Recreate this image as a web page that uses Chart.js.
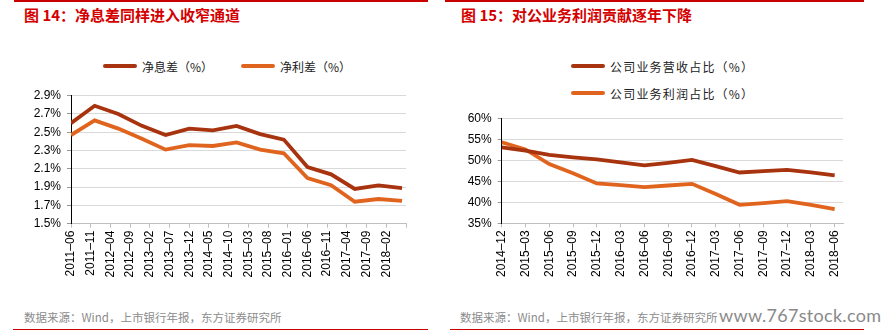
<!DOCTYPE html>
<html><head><meta charset="utf-8">
<script src="https://cdn.jsdelivr.net/npm/chart.js@4.4.0/dist/chart.umd.min.js"></script>
<style>
body{margin:0;width:885px;height:331px;position:relative;background:#fff;overflow:hidden;font-family:"Noto Sans CJK SC",sans-serif;}
.abs{position:absolute;}
.redtop{height:2px;background:#c80000;top:0;}
.redbot{height:1px;background:#c80000;top:329px;}
.title{font-weight:bold;font-size:15px;color:#d40000;top:6px;white-space:nowrap;line-height:18px;}
.foot{font-size:11.5px;color:#8c8c8c;top:309px;white-space:nowrap;line-height:16px;}
.wm{font-family:Lato,"Open Sans",sans-serif;font-size:18px;color:#8a8a8a;top:304px;white-space:nowrap;line-height:22px;letter-spacing:0.3px;}
.legrow{display:flex;align-items:center;height:16px;font-size:12px;color:#222;white-space:nowrap;}
.sw{display:inline-block;width:34px;height:4px;margin-right:5px;border-radius:2px;}
canvas{position:absolute;}
</style></head><body>
<div class="abs redtop" style="left:14px;width:414px"></div>
<div class="abs redtop" style="left:445px;width:419px"></div>
<div class="abs title" style="left:24px">图 14：净息差同样进入收窄通道</div>
<div class="abs title" style="left:461px">图 15：对公业务利润贡献逐年下降</div>
<div id="leg1" class="abs" style="left:103px;top:58px;display:flex;gap:28px"></div>
<div id="leg2" class="abs" style="left:571px;top:58px;display:flex;flex-direction:column;gap:11px;letter-spacing:1.2px"></div>
<canvas id="c1" width="440" height="230" style="left:0;top:50px"></canvas>
<canvas id="c2" width="440" height="230" style="left:445px;top:50px"></canvas>
<div class="abs foot" style="left:24px">数据来源：Wind，上市银行年报，东方证券研究所</div>
<div class="abs foot" style="left:460px">数据来源：Wind，上市银行年报，东方证券研究所</div>
<div class="abs wm" style="left:719px">www.767stock.com</div>
<div class="abs redbot" style="left:13px;width:415px"></div>
<div class="abs redbot" style="left:450px;width:414px"></div>
<script>
// ---- Chart 14 data ----
const nimDates = ['2011-06','2011-12','2012-06','2012-12','2013-06','2013-12','2014-06','2014-12','2015-06','2015-12','2016-06','2016-12','2017-06','2017-12','2018-06'];
const nim = [2.60,2.79,2.70,2.57,2.47,2.54,2.52,2.57,2.48,2.42,2.12,2.04,1.88,1.92,1.89];
const nis = [2.47,2.63,2.54,2.43,2.31,2.36,2.35,2.39,2.31,2.27,2.00,1.92,1.74,1.77,1.75];
const leftXTicks = ['2011–06','2011–11','2012–04','2012–09','2013–02','2013–07','2013–12','2014–05','2014–10','2015–03','2015–08','2016–01','2016–06','2016–11','2017–04','2017–09','2018–02'];
const leftSeriesNames = ['净息差（%）','净利差（%）'];

// ---- Chart 15 data ----
const quarters = ['2014–12','2015–03','2015–06','2015–09','2015–12','2016–03','2016–06','2016–09','2016–12','2017–03','2017–06','2017–09','2017–12','2018–03','2018–06'];
const revShare = [53.1,52.3,51.3,50.7,50.2,49.5,48.8,49.4,50.1,48.6,47.1,47.4,47.7,47.1,46.4];
const profitShare = [54.3,52.6,49.1,46.9,44.5,44.1,43.6,44.0,44.4,42.0,39.4,39.8,40.3,39.4,38.4];
const rightSeriesNames = ['公司业务营收占比（%）','公司业务利润占比（%）'];

const DARK = '#a8330f';
const ORANGE = '#e0641e';

function monthIndex(s, base){
  const [y,m] = s.split('-').map(Number);
  const [by,bm] = base.split('-').map(Number);
  return (y-by)*12 + (m-bm);
}
const tickFont = {family:'"Liberation Sans", Arial, sans-serif', size:12};

const c1 = new Chart(document.getElementById('c1'), {
  type:'line',
  data:{datasets:[
    {label:leftSeriesNames[0], data:nimDates.map((d,i)=>({x:monthIndex(d,nimDates[0]), y:nim[i]})), borderColor:DARK, backgroundColor:DARK, borderWidth:3.8, pointRadius:0, tension:0},
    {label:leftSeriesNames[1], data:nimDates.map((d,i)=>({x:monthIndex(d,nimDates[0]), y:nis[i]})), borderColor:ORANGE, backgroundColor:ORANGE, borderWidth:3.8, pointRadius:0, tension:0}
  ]},
  options:{
    responsive:false, animation:false,
    layout:{padding:{top:45.7, right:34, left:0, bottom:0}},
    plugins:{legend:{display:false}, tooltip:{enabled:false}},
    scales:{
      x:{type:'linear', min:0, max:85,
        afterBuildTicks:(a)=>{a.ticks = leftXTicks.map((t,i)=>({value:i*5})).concat([{value:85}]);},
        ticks:{autoSkip:false, maxRotation:90, minRotation:90, font:tickFont, color:'#000', padding:3,
          callback:(v)=> (leftXTicks[v/5] !== undefined ? leftXTicks[v/5] : '')},
        grid:{drawOnChartArea:false, tickLength:4, color:'#bfbfbf'},
        border:{color:'#bfbfbf'},
        afterFit:(a)=>{a.height=56.3;}
      },
      y:{min:1.5, max:2.9,
        ticks:{stepSize:0.2, font:tickFont, color:'#000', padding:6, callback:(v)=>v.toFixed(1)+'%'},
        grid:{color:'#d9d9d9', tickLength:4, tickColor:'#999'},
        border:{color:'#000'},
        afterFit:(a)=>{a.width=71;}
      }
    }
  }
});

const c2 = new Chart(document.getElementById('c2'), {
  type:'line',
  data:{datasets:[
    {label:rightSeriesNames[0], data:quarters.map((q,i)=>({x:i, y:revShare[i]})), borderColor:DARK, backgroundColor:DARK, borderWidth:3.8, pointRadius:0, tension:0},
    {label:rightSeriesNames[1], data:quarters.map((q,i)=>({x:i, y:profitShare[i]})), borderColor:ORANGE, backgroundColor:ORANGE, borderWidth:3.8, pointRadius:0, tension:0}
  ]},
  options:{
    responsive:false, animation:false,
    layout:{padding:{top:68.3, right:42, left:0, bottom:0}},
    plugins:{legend:{display:false}, tooltip:{enabled:false}},
    scales:{
      x:{type:'linear', min:0, max:quarters.length-1+0.35,
        afterBuildTicks:(a)=>{a.ticks = quarters.map((q,i)=>({value:i}));},
        ticks:{autoSkip:false, maxRotation:90, minRotation:90, font:tickFont, color:'#000', padding:3,
          callback:(v)=> (quarters[v] !== undefined ? quarters[v] : '')},
        grid:{drawOnChartArea:false, tickLength:4, color:'#bfbfbf'},
        border:{color:'#bfbfbf'},
        afterFit:(a)=>{a.height=56.7;}
      },
      y:{min:35, max:60,
        ticks:{stepSize:5, font:tickFont, color:'#000', padding:6, callback:(v)=>v+'%'},
        grid:{color:'#d9d9d9', tickLength:4, tickColor:'#999'},
        border:{color:'#000'},
        afterFit:(a)=>{a.width=56.7;}
      }
    }
  }
});

function buildLegend(chart, el){
  chart.data.datasets.forEach(ds=>{
    const row = document.createElement('div');
    row.className='legrow';
    const sw = document.createElement('span');
    sw.className='sw'; sw.style.background = ds.borderColor;
    const tx = document.createElement('span');
    tx.textContent = ds.label;
    row.appendChild(sw); row.appendChild(tx);
    el.appendChild(row);
  });
}
buildLegend(c1, document.getElementById('leg1'));
buildLegend(c2, document.getElementById('leg2'));
</script>
</body></html>
